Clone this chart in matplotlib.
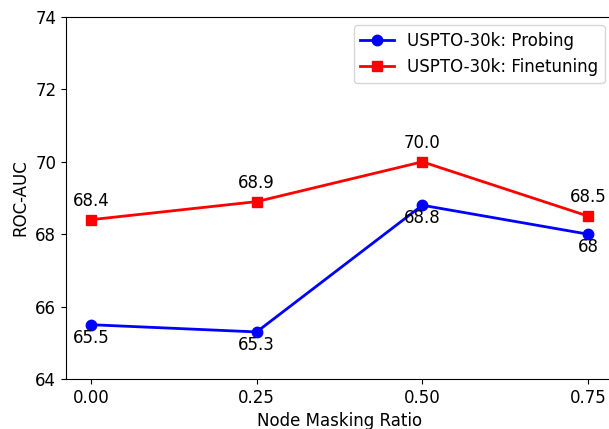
import matplotlib.pyplot as plt

ratios = [0.00, 0.25, 0.50, 0.75]
probing = [65.5, 65.3, 68.8, 68.0]
finetuning = [68.4, 68.9, 70.0, 68.5]
probing_labels = ['65.5', '65.3', '68.8', '68']
finetuning_labels = ['68.4', '68.9', '70.0', '68.5']

plt.rcParams['font.size'] = 12

fig = plt.figure(figsize=(6.09, 4.29), dpi=100)
ax = fig.add_axes([66 / 609, 1 - 379 / 429, 547 / 609, 362 / 429])

ax.plot(ratios, probing, color='blue', marker='o', markersize=7.5, linewidth=2,
        label='USPTO-30k: Probing')
ax.plot(ratios, finetuning, color='red', marker='s', markersize=7.5, linewidth=2,
        label='USPTO-30k: Finetuning')

for x, y, t in zip(ratios, probing, probing_labels):
    ax.annotate(t, (x, y), textcoords='offset points', xytext=(0, -3),
                ha='center', va='top')
for x, y, t in zip(ratios, finetuning, finetuning_labels):
    ax.annotate(t, (x, y), textcoords='offset points', xytext=(0, 7),
                ha='center', va='bottom')

ax.set_ylim(64, 74)
ax.set_xticks(ratios)
ax.set_xlabel('Node Masking Ratio')
ax.set_ylabel('ROC-AUC')
ax.legend(loc='upper right')

fig.savefig('out.png', dpi=100)
